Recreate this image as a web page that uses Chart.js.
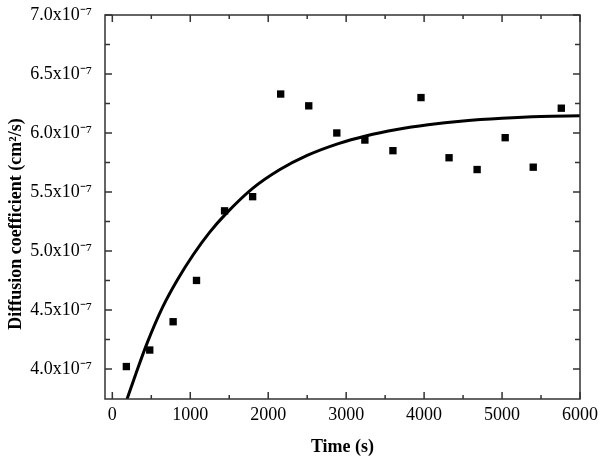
<!DOCTYPE html>
<html>
<head>
<meta charset="utf-8">
<script src="https://cdn.jsdelivr.net/npm/chart.js"></script>
<style>
  html, body { margin: 0; padding: 0; background: #fff; }
</style>
</head>
<body>
<canvas id="myChart" width="601" height="464"></canvas>
<script>
// Measured points: time in s, D in units of 1e-7 cm^2/s
const timeS = [180, 480, 780, 1080, 1440, 1800, 2160, 2520, 2880, 3240, 3600, 3960, 4320, 4680, 5040, 5400, 5760];
const diffCoef = [4.02, 4.16, 4.40, 4.75, 5.34, 5.46, 6.33, 6.23, 6.00, 5.94, 5.85, 6.30, 5.79, 5.69, 5.96, 5.71, 6.21];

// Fitted curve
const fitTime = [150, 300, 450, 650, 830, 1040, 1250, 1450, 1800, 2150, 2500, 2900, 3250, 3650, 4050, 4500, 5000, 5500, 6000];
const fitCoef = [3.67, 3.955, 4.225, 4.53, 4.75, 4.97, 5.16, 5.31, 5.53, 5.69, 5.81, 5.91, 5.975, 6.03, 6.07, 6.102, 6.125, 6.14, 6.145];

// Axis ticks
const xTicks = [0, 1000, 2000, 3000, 4000, 5000, 6000];
const yTicks = [4.0, 4.5, 5.0, 5.5, 6.0, 6.5, 7.0];

const serif = "'Liberation Serif', 'Times New Roman', serif";

// frame with inward ticks on all four sides, plus axis titles
const frameTicks = {
  id: 'frameTicks',
  afterDatasetsDraw(chart) {
    const { ctx, chartArea: a, scales: { x, y } } = chart;
    ctx.save();
    ctx.strokeStyle = '#333';
    ctx.lineWidth = 1.5;
    ctx.strokeRect(a.left, a.top, a.right - a.left, a.bottom - a.top);
    ctx.beginPath();
    for (let i = 0; i < xTicks.length; i++) {
      const vals = [xTicks[i]];
      if (i < xTicks.length - 1) vals.push((xTicks[i] + xTicks[i + 1]) / 2);
      vals.forEach((v, j) => {
        const px = x.getPixelForValue(v);
        const len = j === 0 ? 7 : 4;
        ctx.moveTo(px, a.bottom); ctx.lineTo(px, a.bottom - len);
        ctx.moveTo(px, a.top); ctx.lineTo(px, a.top + len);
      });
    }
    for (let i = 0; i < yTicks.length; i++) {
      const vals = [yTicks[i]];
      if (i < yTicks.length - 1) vals.push((yTicks[i] + yTicks[i + 1]) / 2);
      vals.forEach((v, j) => {
        const py = y.getPixelForValue(v);
        const len = j === 0 ? 7 : 5;
        ctx.moveTo(a.left, py); ctx.lineTo(a.left + len, py);
        ctx.moveTo(a.right, py); ctx.lineTo(a.right - len, py);
      });
    }
    ctx.stroke();

    ctx.fillStyle = '#000';
    ctx.font = 'bold 18px ' + serif;
    ctx.textAlign = 'center';
    ctx.textBaseline = 'middle';
    ctx.fillText('Time (s)', (a.left + a.right) / 2, 447);
    ctx.translate(16, 224);
    ctx.rotate(-Math.PI / 2);
    ctx.fillText('Diffusion coefficient (cm\u00b2/s)', 0, 0);
    ctx.restore();
  }
};

new Chart(document.getElementById('myChart'), {
  type: 'scatter',
  data: {
    datasets: [
      {
        label: 'Fit',
        data: fitTime.map((t, i) => ({ x: t, y: fitCoef[i] })),
        showLine: true,
        borderColor: '#000',
        borderWidth: 3,
        pointRadius: 0,
        cubicInterpolationMode: 'monotone',
        order: 1
      },
      {
        label: 'Measured',
        data: timeS.map((t, i) => ({ x: t, y: diffCoef[i] })),
        pointStyle: 'rect',
        pointRadius: 5.2,
        backgroundColor: '#000',
        borderColor: '#000',
        borderWidth: 0,
        order: 2
      }
    ]
  },
  options: {
    responsive: false,
    animation: false,
    devicePixelRatio: 1,
    layout: { padding: { top: 15, right: 21, left: 0, bottom: 0 } },
    plugins: { legend: { display: false }, tooltip: { enabled: false } },
    scales: {
      x: {
        type: 'linear',
        min: -94,
        max: 6000,
        grid: { display: false, drawTicks: false },
        border: { display: false },
        afterFit(scale) {
          scale.height = 65;
          scale.paddingLeft = 0;
          scale.paddingRight = 0;
        },
        afterBuildTicks(scale) { scale.ticks = xTicks.map(v => ({ value: v })); },
        ticks: {
          color: '#000',
          padding: 5,
          font: { family: serif, size: 18 },
          maxRotation: 0,
          callback: v => String(v)
        }
      },
      y: {
        type: 'linear',
        min: 3.745,
        max: 7.0,
        grid: { display: false, drawTicks: false },
        border: { display: false },
        afterFit(scale) {
          scale.width = 105;
          scale.paddingTop = 0;
          scale.paddingBottom = 0;
        },
        afterBuildTicks(scale) { scale.ticks = yTicks.map(v => ({ value: v })); },
        ticks: {
          color: '#000',
          padding: 13,
          font: { family: serif, size: 18 },
          callback: v => v.toFixed(1) + 'x10\u207b\u2077'
        }
      }
    }
  },
  plugins: [frameTicks]
});
</script>
</body>
</html>
